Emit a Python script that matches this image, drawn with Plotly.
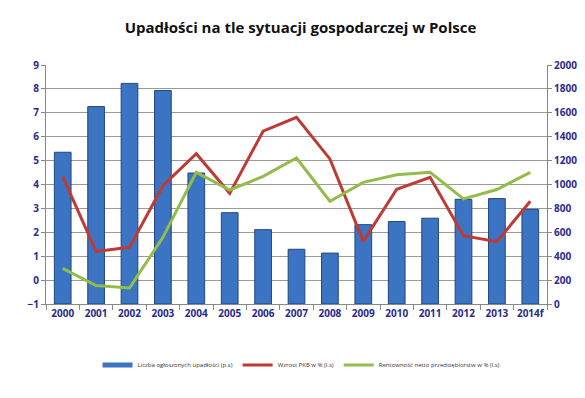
import plotly.graph_objects as go

years = ["2000", "2001", "2002", "2003", "2004", "2005", "2006", "2007",
         "2008", "2009", "2010", "2011", "2012", "2013", "2014f"]
upadlosci = [1270, 1652, 1846, 1786, 1096, 764, 622, 458, 426, 664, 690, 718, 876, 882, 792]
pkb = [4.33, 1.2, 1.37, 3.95, 5.29, 3.63, 6.23, 6.81, 5.07, 1.62, 3.80, 4.30, 1.86, 1.61, 3.30]
rentownosc = [0.49, -0.23, -0.33, 1.79, 4.51, 3.77, 4.34, 5.11, 3.30, 4.09, 4.41, 4.51, 3.40, 3.79, 4.51]

names = ["Liczba ogłoszonych upadłości (p.s)", "Wzrost PKB w % (l.s)",
         "Rentowność netto przedsiębiorstw w % (l.s)"]

tick_color = "#2A2A8A"
font_family = "Open Sans, Noto Sans, sans-serif"
bar_color = "#3B74C2"

fig = go.Figure()
fig.add_trace(go.Bar(x=years, y=upadlosci, name=names[0], yaxis="y",
                     width=0.5, showlegend=False,
                     marker=dict(color=bar_color, line=dict(color="#22467D", width=1))))
# legend entry for the bars, drawn as a wide blue bar symbol (no data)
fig.add_trace(go.Scatter(x=[None], y=[None], name=names[0], yaxis="y", mode="lines",
                         line=dict(color=bar_color, width=5)))
fig.add_trace(go.Scatter(x=years, y=pkb, name=names[1], yaxis="y2", mode="lines",
                         line=dict(color="#BF3A35", width=3)))
fig.add_trace(go.Scatter(x=years, y=rentownosc, name=names[2], yaxis="y2", mode="lines",
                         line=dict(color="#94BC4A", width=3)))

tickfont = dict(family=font_family, size=10, color=tick_color, weight="bold")

fig.update_layout(
    width=585, height=398,
    margin=dict(l=38, r=46, t=57, b=102),
    paper_bgcolor="white", plot_bgcolor="white",
    title=dict(text="<b>Upadłości na tle sytuacji gospodarczej w Polsce</b>",
               x=0.5, xanchor="center", y=0.95, yanchor="middle",
               font=dict(family=font_family, size=15, color="#111111")),
    xaxis=dict(type="category", tickson="boundaries", ticks="outside", ticklen=5,
               tickcolor="#888888", showline=True, linecolor="#888888",
               showgrid=False, tickangle=0, tickfont=tickfont),
    yaxis=dict(side="right", range=[0, 2000], dtick=200, showgrid=True,
               gridcolor="#9a9a9a", gridwidth=1, zeroline=False,
               ticks="outside", ticklen=4, tickcolor="#888888",
               showline=True, linecolor="#888888", tickfont=tickfont),
    yaxis2=dict(side="left", overlaying="y", range=[-1, 9], dtick=1, showgrid=False,
                zeroline=False, ticks="outside", ticklen=4, tickcolor="#888888",
                showline=True, linecolor="#888888", tickfont=tickfont),
    legend=dict(orientation="h", x=0.51, xanchor="center", y=-0.255, yanchor="middle",
                font=dict(family=font_family, size=6, color="#333333"),
                itemwidth=30, traceorder="normal"),
)

fig.write_html("out.html")
